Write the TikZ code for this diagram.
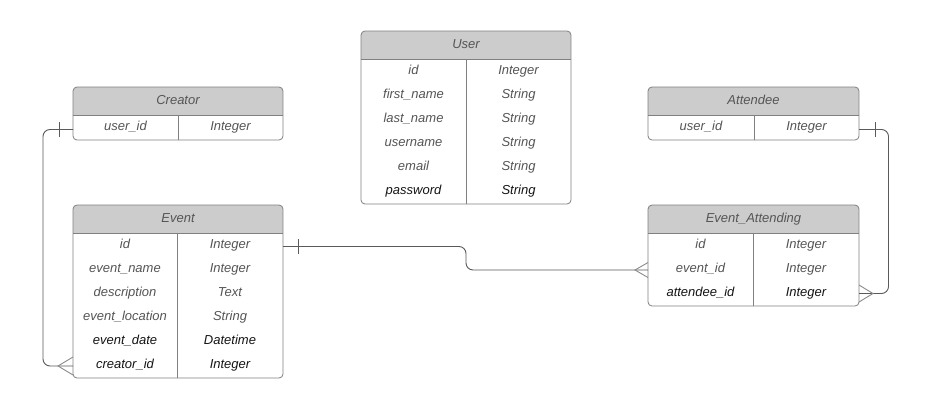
\documentclass[tikz,border=0pt]{standalone}
\usepackage{fontspec}
\setmainfont{Liberation Sans}
\definecolor{hdr}{HTML}{CCCCCC}
\definecolor{bord}{HTML}{808080}
\definecolor{txt}{HTML}{555555}
\definecolor{txtdark}{HTML}{151515}
\definecolor{conn}{HTML}{5A5A5A}
\definecolor{foot}{HTML}{8A8A8A}
\tikzset{
  cell/.style={font=\fontsize{13}{15}\selectfont\itshape, text=txt, inner sep=0pt,
    text height=9.5pt, text depth=3pt, anchor=center},
  dark/.style={text=txtdark},
  titletext/.style={cell, text=txt},
  border/.style={draw=bord, line width=0.8pt},
  conn/.style={draw=conn, line width=0.9pt, rounded corners=7},
  tickline/.style={draw=conn, line width=0.9pt},
  footline/.style={draw=foot, line width=0.9pt},
}
\newcommand\erbox[7]{%
  \pgfmathsetmacro\yh{#5+28}%
  \pgfmathsetmacro\yb{#5+28+24*#6+1}%
  \begin{scope}
    \clip[rounded corners=4] (#2,#5) rectangle (#3,\yb);
    \fill[white] (#2,#5) rectangle (#3,\yb);
    \fill[hdr] (#2,#5) rectangle (#3,\yh);
  \end{scope}
  \draw[border] (#2,\yh) -- (#3,\yh);
  \draw[border] (#4,\yh) -- (#4,\yb);
  \draw[border, rounded corners=4] (#2,#5) rectangle (#3,\yb);
  \node[titletext] (#1-title) at ({(#2+#3)/2},{#5+14}) {#7};
}
\begin{document}
\begin{tikzpicture}[x=1pt,y=-1pt]
\useasboundingbox (0,0) rectangle (931,410);
\fill[white] (0,0) rectangle (931,410);

% User
\erbox{user}{361}{571}{466}{31}{6}{User}
\node[cell] (u1a) at (413.5,71) {id};         \node[cell] (u1b) at (518.5,71) {Integer};
\node[cell] (u2a) at (413.5,95) {first\_name}; \node[cell] (u2b) at (518.5,95) {String};
\node[cell] (u3a) at (413.5,119) {last\_name}; \node[cell] (u3b) at (518.5,119) {String};
\node[cell] (u4a) at (413.5,143) {username};   \node[cell] (u4b) at (518.5,143) {String};
\node[cell] (u5a) at (413.5,167) {email};      \node[cell] (u5b) at (518.5,167) {String};
\node[cell,dark] (u6a) at (413.5,191) {password}; \node[cell,dark] (u6b) at (518.5,191) {String};

% Creator
\erbox{creator}{73}{283}{178}{87}{1}{Creator}
\node[cell] (c1a) at (125.5,127.5) {user\_id}; \node[cell] (c1b) at (230.5,127.5) {Integer};

% Attendee
\erbox{attendee}{648}{859}{754}{87}{1}{Attendee}
\node[cell] (a1a) at (701,127.5) {user\_id}; \node[cell] (a1b) at (806.5,127.5) {Integer};

% Event
\erbox{event}{73}{283}{177}{205}{6}{Event}
\node[cell] (e1a) at (125,245) {id};             \node[cell] (e1b) at (230,245) {Integer};
\node[cell] (e2a) at (125,269) {event\_name};    \node[cell] (e2b) at (230,269) {Integer};
\node[cell] (e3a) at (125,293) {description};    \node[cell] (e3b) at (230,293) {Text};
\node[cell] (e4a) at (125,317) {event\_location};\node[cell] (e4b) at (230,317) {String};
\node[cell,dark] (e5a) at (125,341) {event\_date}; \node[cell,dark] (e5b) at (230,341) {Datetime};
\node[cell,dark] (e6a) at (125,365) {creator\_id}; \node[cell,dark] (e6b) at (230,365) {Integer};

% Event_Attending
\erbox{ea}{648}{859}{753}{205}{3}{Event\_Attending}
\node[cell] (ea1a) at (700.5,245) {id};          \node[cell] (ea1b) at (806,245) {Integer};
\node[cell] (ea2a) at (700.5,269) {event\_id};   \node[cell] (ea2b) at (806,269) {Integer};
\node[cell,dark] (ea3a) at (700.5,293) {attendee\_id}; \node[cell,dark] (ea3b) at (806,293) {Integer};

% connection points
\coordinate (crP) at (73,129.5);
\coordinate (evC) at (73,366);
\coordinate (evP) at (283,246.5);
\coordinate (eaE) at (648,270);
\coordinate (atP) at (859,129.5);
\coordinate (eaA) at (859,293.5);

% Creator -> Event
\draw[conn] (crP) -- (43,129.5) -- (43,366) -- (evC);
\draw[tickline] (59,122) -- (59,137);
\draw[footline] (73,357) -- (58,366) -- (73,375);

% Event -> Event_Attending
\draw[conn] (evP) -- (466,246.5) -- (466,270) -- (eaE);
\draw[tickline] (298,239) -- (298,254);
\draw[footline] (648,262.5) -- (635,270) -- (648,277.5);

% Attendee -> Event_Attending
\draw[conn] (atP) -- (888.5,129.5) -- (888.5,293.5) -- (eaA);
\draw[tickline] (875,122) -- (875,137);
\draw[footline] (859,285) -- (873,293.5) -- (859,302);
\end{tikzpicture}
\end{document}
